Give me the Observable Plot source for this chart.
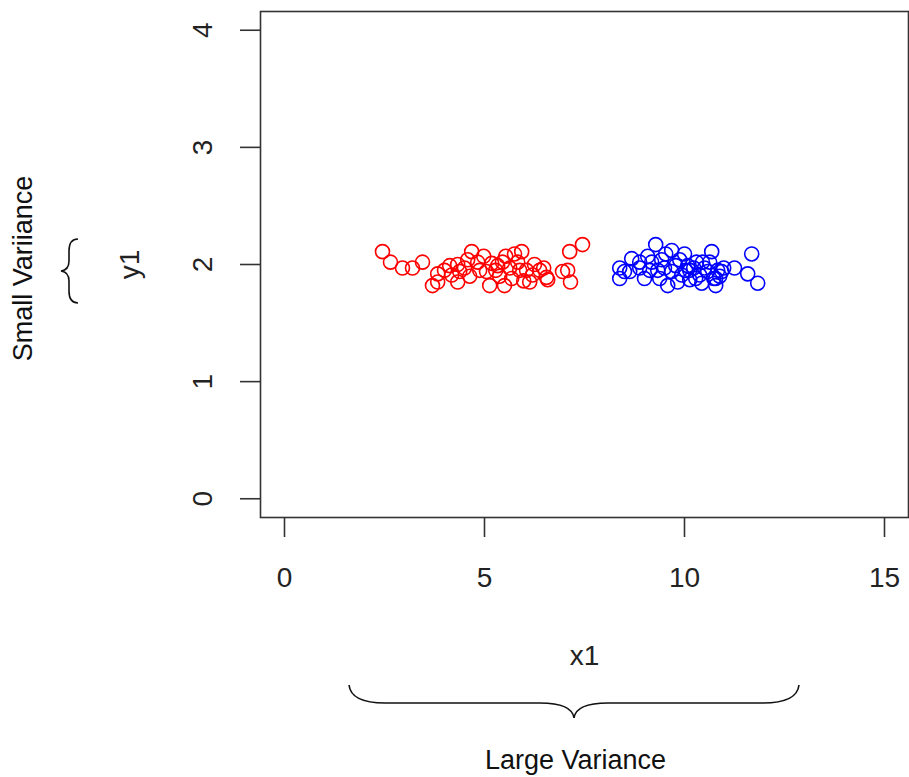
<!DOCTYPE html>
<html>
<head>
<meta charset="utf-8">
<script src="https://cdn.jsdelivr.net/npm/d3@7"></script>
<script src="https://cdn.jsdelivr.net/npm/@observablehq/plot@0.6"></script>
<style>
  html, body { margin: 0; padding: 0; background: #fff; }
</style>
</head>
<body>
<div id="chart"></div>
<script>
// ---- data ----
const redX = [2.45,2.65,2.95,3.20,3.45,3.70,3.83,3.83,4.13,4.18,4.33,4.38,4.50,4.63,4.68,4.83,4.88,4.98,5.05,5.13,
              5.18,5.28,5.38,5.45,5.53,5.63,5.68,5.75,5.83,5.88,5.98,6.05,6.13,6.20,6.25,6.38,6.48,6.55,6.95,7.08,
              7.15,7.13,7.45,5.33,4.58,5.50,5.93,4.33,4.00,6.58];
const redY = [2.11,2.02,1.97,1.97,2.02,1.82,1.85,1.92,1.99,1.91,2.00,1.94,1.97,1.90,2.11,2.02,1.95,2.07,1.94,1.82,
              2.01,1.95,1.90,2.02,2.07,1.97,1.88,2.09,2.02,1.95,1.86,1.95,1.85,1.91,2.00,1.95,1.97,1.89,1.94,1.95,
              1.85,2.11,2.17,1.99,2.04,1.82,2.11,1.85,1.95,1.87];
const blueX = [8.38,8.38,8.50,8.68,8.88,9.00,9.08,9.18,9.28,9.33,9.43,9.50,9.58,9.68,9.68,9.78,9.88,9.93,10.00,10.08,
               10.13,10.23,10.30,10.38,10.43,10.50,10.58,10.68,10.73,10.78,10.83,10.93,10.98,11.25,11.58,11.68,11.83,9.13,9.38,9.83,
               10.28,10.63,8.63,9.53,10.45,10.78,10.13,8.88,10.88,10.03];
const blueY = [1.97,1.88,1.94,2.05,2.02,1.88,2.07,2.02,2.17,1.95,2.04,1.97,1.82,2.12,1.94,1.99,2.04,1.91,2.09,1.99,
               1.95,1.97,2.02,1.91,1.84,1.97,1.94,2.11,1.88,1.82,1.95,1.94,1.97,1.97,1.92,2.09,1.84,1.95,1.88,1.85,
               1.88,2.02,1.94,2.09,2.02,1.88,1.87,1.97,1.90,1.95];
const xTicks = [0, 5, 10, 15];
const yTicks = [0, 1, 2, 3, 4];
const xLabel = "x1";
const yLabel = "y1";
const xNote = "Large Variance";
const yNote = "Small Variiance";
const groups = ["red", "blue"];
const groupColors = ["#ff1f00", "#1414ff"];

const points = [
  ...redX.map((x, i) => ({x, y: redY[i], g: "red"})),
  ...blueX.map((x, i) => ({x, y: blueY[i], g: "blue"}))
];

const FONT = "'Liberation Sans', Arial, Helvetica, sans-serif";
const INK = "#222";

// custom render mark for the two curly braces (annotation, in pixel space)
function braces() {
  const g = d3.create("svg:g").attr("fill", "none").attr("stroke", "#111").attr("stroke-width", 1.6);
  g.append("path").attr("d",
    "M349,685 Q351,703 385,703 L540,703 Q572,703 574,718 Q576,703 608,703 L763,703 Q797,703 799,685");
  g.append("path").attr("d",
    "M78,239 Q69,239 69,251 L69,261 Q69,270 61,271 Q69,272 69,281 L69,291 Q69,303 78,303");
  return g.node();
}

const chart = Plot.plot({
  width: 909,
  height: 777,
  marginLeft: 260,
  marginRight: 1,
  marginTop: 11,
  marginBottom: 260,
  style: {fontFamily: FONT, fontSize: "28px", background: "#fff", color: INK},
  x: {domain: [-0.6, 15.6]},
  y: {domain: [-0.16, 4.16]},
  color: {domain: groups, range: groupColors},
  marks: [
    Plot.frame({stroke: "#333", strokeWidth: 1.6}),
    Plot.axisX({ticks: xTicks, tickSize: 20, tickFormat: () => "", label: null, stroke: "#333", strokeWidth: 1.6}),
    Plot.axisY({ticks: yTicks, tickSize: 20, tickFormat: () => "", label: null, stroke: "#333", strokeWidth: 1.6}),
    Plot.text(xTicks, {x: d => d, text: d => String(d), frameAnchor: "bottom", dy: 61,
      lineAnchor: "middle", textAnchor: "middle", fontSize: 28, fill: INK}),
    Plot.text(yTicks, {y: d => d, text: d => String(d), frameAnchor: "left", dx: -57, rotate: -90,
      lineAnchor: "middle", textAnchor: "middle", fontSize: 28, fill: INK}),
    Plot.text([xLabel], {text: d => d, frameAnchor: "bottom", dy: 139, lineAnchor: "middle", textAnchor: "middle", fontSize: 28, fill: INK}),
    Plot.text([yLabel], {text: d => d, frameAnchor: "left", dx: -130, rotate: -90, lineAnchor: "middle", textAnchor: "middle", fontSize: 28, fill: INK}),
    Plot.text([xNote], {text: d => d, frameAnchor: "bottom", dx: -9, dy: 243, lineAnchor: "middle", textAnchor: "middle", fontSize: 27, fill: "#111"}),
    Plot.text([yNote], {text: d => d, frameAnchor: "left", dx: -237, dy: 4, rotate: -90, lineAnchor: "middle", textAnchor: "middle", fontSize: 27, fill: "#111"}),
    Plot.dot(points, {x: "x", y: "y", stroke: "g", fill: "none", r: 7, strokeWidth: 1.6}),
    braces
  ]
});
document.getElementById("chart").appendChild(chart);
</script>
</body>
</html>
